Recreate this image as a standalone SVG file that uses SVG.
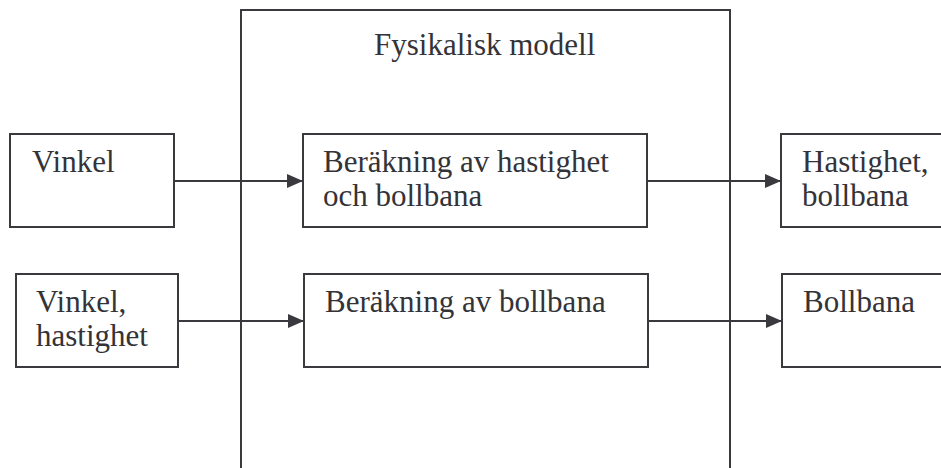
<svg xmlns="http://www.w3.org/2000/svg" width="941" height="468" viewBox="0 0 941 468">
<defs>
<style>
.box{fill:#fff;stroke:#3a3a3e;stroke-width:2}
.frame{fill:none;stroke:#3a3a3e;stroke-width:2}
.lbl{font-family:"Liberation Serif","Times New Roman",serif;font-size:31px;fill:#333338}
.conn{stroke:#3a3a3e;stroke-width:2;fill:none;marker-end:url(#ah)}
</style>
<marker id="ah" markerWidth="16" markerHeight="14" refX="16" refY="7" orient="auto" markerUnits="userSpaceOnUse">
<path d="M0,0 L16,7 L0,14 Z" fill="#3a3a3e"/>
</marker>
</defs>
<rect width="941" height="468" fill="#fff"/>
<g id="fysikalisk-modell">
<path class="frame" d="M241,469 L241,10 L730,10 L730,469"/>
<text class="lbl" x="374" y="55">Fysikalisk modell</text>
</g>
<g id="connectors">
<line class="conn" x1="174" y1="181" x2="303" y2="181"/>
<line class="conn" x1="647" y1="181" x2="781" y2="181"/>
<line class="conn" x1="178" y1="321" x2="304" y2="321"/>
<line class="conn" x1="648" y1="321" x2="782" y2="321"/>
</g>
<g id="vinkel">
<rect class="box" x="10" y="134" width="164" height="93"/>
<text class="lbl" x="32" y="172">Vinkel</text>
</g>
<g id="vinkel-hastighet">
<rect class="box" x="16" y="274" width="162" height="93"/>
<text class="lbl" x="36" y="312">Vinkel,</text>
<text class="lbl" x="36" y="346">hastighet</text>
</g>
<g id="berakning-hastighet-bollbana">
<rect class="box" x="303" y="134" width="344" height="93"/>
<text class="lbl" x="323" y="172">Beräkning av hastighet</text>
<text class="lbl" x="323" y="206">och bollbana</text>
</g>
<g id="berakning-bollbana">
<rect class="box" x="304" y="274" width="344" height="93"/>
<text class="lbl" x="325" y="312">Beräkning av bollbana</text>
</g>
<g id="hastighet-bollbana">
<rect class="box" x="781" y="134" width="170" height="93"/>
<text class="lbl" x="802" y="172">Hastighet,</text>
<text class="lbl" x="802" y="206">bollbana</text>
</g>
<g id="bollbana">
<rect class="box" x="782" y="274" width="170" height="93"/>
<text class="lbl" x="803" y="312">Bollbana</text>
</g>
</svg>
